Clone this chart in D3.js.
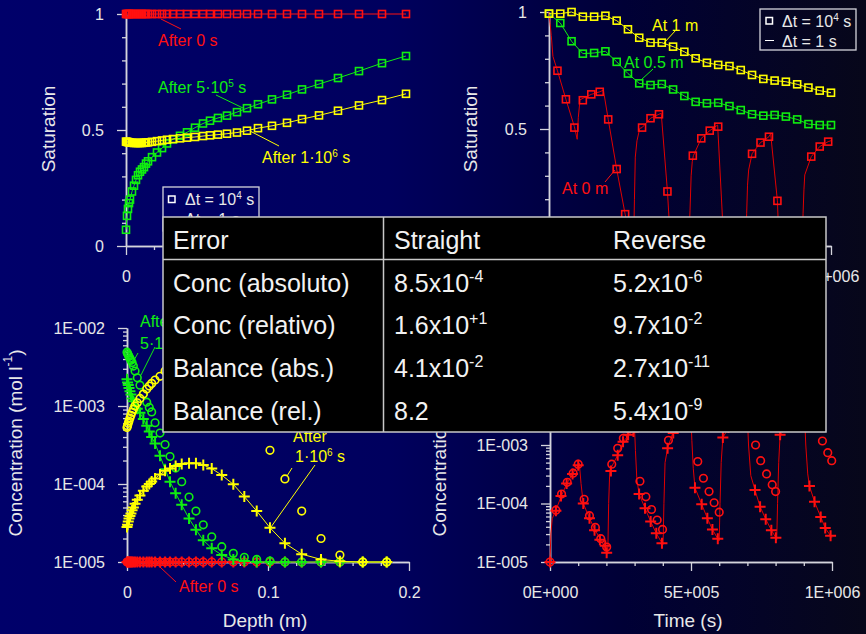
<!DOCTYPE html>
<html>
<head>
<script src="https://d3js.org/d3.v7.min.js"></script>
<style>
body { margin: 0; background: #000; }
svg text { font-family: "Liberation Sans", Arial, sans-serif; }
</style>
</head>
<body>
<script>
// ---------- data ----------
// top left: saturation vs depth (m)
const tlDepth = [0,0.0036,0.0071,0.0107,0.0143,0.0214,0.0286,0.0357,0.0429,0.05,0.0571,0.0643,0.0714,0.0786,0.0929,0.1107,0.1286,0.1464,0.1679,0.1929,0.2179,0.2464,0.275,0.3,0.3286,0.3607,0.3964,0.4321,0.4714,0.5214,0.575,0.6286,0.6893,0.7571,0.8321,0.9143,1.0];
const tlSat0 = [1,1,1,1,1,1,1,1,1,1,1,1,1,1,1,1,1,1,1,1,1,1,1,1,1,1,1,1,1,1,1,1,1,1,1,1,1];
const tlSat5e5 = [0.07,0.13,0.16,0.185,0.2,0.235,0.26,0.285,0.305,0.32,0.33,0.34,0.355,0.365,0.383,0.403,0.422,0.442,0.46,0.475,0.49,0.51,0.528,0.54,0.552,0.562,0.577,0.594,0.611,0.632,0.652,0.675,0.698,0.724,0.754,0.788,0.819];
const tlSat1e6 = [0.45,0.449,0.448,0.447,0.446,0.445,0.444,0.444,0.444,0.444,0.444,0.445,0.446,0.447,0.449,0.452,0.455,0.458,0.461,0.464,0.467,0.47,0.474,0.477,0.48,0.484,0.489,0.497,0.508,0.518,0.531,0.547,0.563,0.583,0.606,0.629,0.656];

// top right: saturation vs time (ks)
const trTime = [0,40,80,120,160,200,240,280,320,360,400,440,480,520,560,600,640,680,720,760,800,840,880,920,960,1000];
const trSat1m = [0.993,0.993,1.0,0.98,0.98,0.984,0.963,0.926,0.89,0.869,0.869,0.852,0.83,0.802,0.783,0.774,0.769,0.752,0.731,0.714,0.707,0.702,0.691,0.677,0.664,0.655];
const trSat05m = [0.993,0.953,0.875,0.822,0.825,0.832,0.787,0.737,0.695,0.688,0.692,0.669,0.641,0.616,0.61,0.612,0.598,0.581,0.563,0.557,0.56,0.553,0.541,0.521,0.517,0.517];
const trRedTime = [0,30,60,90,120,150,180,210,240,270,300,330,360,390,420,450,480,510,540,570,600,630,660,690,720,750,780,810,840,870,900,930,960,990];
const trSat0m = [0.993,0.749,0.627,0.506,0.623,0.648,0.659,0.541,0.329,0.136,0.04,0.506,0.546,0.563,0.233,0.03,0.04,0.386,0.46,0.493,0.51,0.03,0.03,0.04,0.394,0.442,0.467,0.193,0.03,0.03,0.04,0.382,0.425,0.446];
const trLine0mT = [0,4,8,14,30,60,90,100,104,110,150,180,193,210,240,270,290,300,303,306,312,322,330,360,390,398,420,430,495,500,504,508,512,540,570,598,616,625,698,701,704,708,720,750,780,786,810,815,898,901,904,907,930,960,990,1000];
const trLine0mS = [1,0.95,0.9,0.81,0.749,0.627,0.51,0.456,0.55,0.625,0.648,0.659,0.666,0.541,0.329,0.136,0.02,0,0.2,0.38,0.45,0.503,0.506,0.546,0.563,0.567,0.233,0.03,0,0.15,0.3,0.36,0.386,0.46,0.493,0.517,0.1,0,0,0.14,0.26,0.325,0.394,0.442,0.467,0.48,0.193,0.03,0,0.14,0.24,0.304,0.382,0.425,0.446,0.45];

// bottom left: concentration vs depth
const blDepth = [0,0.0004,0.0009,0.0014,0.0021,0.0028,0.0036,0.0045,0.0057,0.0073,0.0092,0.0116,0.014,0.0158,0.0175,0.0199,0.0234,0.027,0.0305,0.0345,0.0388,0.044,0.0489,0.0541,0.0601,0.0672,0.0754,0.0832,0.092,0.1014,0.112,0.1239,0.1376,0.151,0.1672,0.1842];
const blConc0 = [1e-5,1e-5,1e-5,1e-5,1e-5,1e-5,1e-5,1e-5,1e-5,1e-5,1e-5,1e-5,1e-5,1e-5,1e-5,1e-5,1e-5,1e-5,1e-5,1e-5,1e-5,1e-5,1e-5,1e-5,1e-5,1e-5,1e-5,1e-5,1e-5,1e-5,1e-5,1e-5,1e-5,1e-5,1e-5,1e-5];
const blGreenPlus = [2.2e-3,2.0e-3,1.86e-3,1.7e-3,1.55e-3,1.4e-3,1.25e-3,1.15e-3,1.02e-3,9.2e-4,8.2e-4,6.8e-4,5.6e-4,4.7e-4,4.0e-4,3.3e-4,2.3e-4,1.55e-4,1.07e-4,7.6e-5,5.4e-5,3.6e-5,2.6e-5,1.9e-5,1.5e-5,1.23e-5,1.08e-5,1.03e-5,1e-5,1e-5,1e-5,1e-5,1e-5,1e-5,1e-5,1e-5];
const blGreenCirc = [4.9e-3,4.7e-3,4.5e-3,4.3e-3,4.1e-3,3.85e-3,3.6e-3,3.25e-3,2.8e-3,2.3e-3,1.85e-3,1.42e-3,1.12e-3,9.6e-4,8.4e-4,6.1e-4,4.5e-4,3.2e-4,2.25e-4,1.6e-4,1.07e-4,6.8e-5,4.5e-5,3.0e-5,2.1e-5,1.57e-5,1.29e-5,1.15e-5,1.08e-5,1.03e-5,1e-5,1e-5,1e-5,1e-5,1e-5,1e-5];
const blYellowPlus = [2.8e-5,3.0e-5,3.3e-5,3.6e-5,3.9e-5,4.2e-5,4.6e-5,5.0e-5,5.6e-5,6.3e-5,7.1e-5,8.2e-5,9.3e-5,1.0e-4,1.08e-4,1.18e-4,1.32e-4,1.48e-4,1.58e-4,1.7e-4,1.8e-4,1.84e-4,1.84e-4,1.75e-4,1.58e-4,1.3e-4,9.9e-5,6.9e-5,4.5e-5,2.75e-5,1.74e-5,1.26e-5,1.08e-5,1.02e-5,1e-5,1e-5];
const blYellowCirc = [5.3e-4,5.6e-4,6.0e-4,6.4e-4,7.0e-4,7.6e-4,8.3e-4,9.1e-4,1.0e-3,1.1e-3,1.25e-3,1.42e-3,1.65e-3,1.8e-3,1.95e-3,2.15e-3,2.4e-3,2.8e-3,3.2e-3,3.6e-3,3.9e-3,4.1e-3,4.2e-3,4.1e-3,3.8e-3,3.2e-3,2.3e-3,1.5e-3,7.5e-4,2.7e-4,1.16e-4,4.5e-5,2.0e-5,1.23e-5,1e-5,1e-5];

// bottom right: concentration at 0 m vs time (ks)
const brPlusT = [0,21,39,59,80,100,118,140,158,177,196,201,216,240,259,277,296,316,337,357,377,397,417,437,457,477,497,514,538,558,576,595,613,633,653,673,693,727,745,765,785,801,816,836,856,876,896,920,938,960,976,995];
const brPlusC = [1e-5,7.5e-5,1.34e-4,2.2e-4,3.2e-4,4.5e-4,1.0e-4,5.6e-5,3.5e-5,2.4e-5,1.9e-5,1.44e-5,3.6e-4,6.7e-4,1.14e-3,1.5e-3,1.7e-3,1.45e-4,8.3e-5,4.9e-5,3.1e-5,2.1e-5,8.8e-4,1.6e-3,2.2e-3,2.6e-3,2.9e-3,1.86e-4,9.7e-5,5.6e-5,3.6e-5,2.5e-5,1.35e-3,2.0e-3,2.4e-3,2.7e-3,2.9e-3,1.7e-4,8.8e-5,5.4e-5,3.5e-5,2.6e-5,1.5e-3,2.1e-3,2.5e-3,2.8e-3,3.0e-3,2.0e-4,1.07e-4,5.9e-5,3.8e-5,2.8e-5];
const brCircT = [0,21,41,61,82,100,121,140,161,180,201,219,240,260,280,300,319,340,360,380,399,420,440,460,480,500,524,544,564,582,600,620,640,660,680,700,729,747,768,788,800,820,840,860,880,900,920,945,966,985,999];
const brCircC = [1e-5,7.7e-5,1.45e-4,2.3e-4,3.3e-4,4.7e-4,1.18e-4,6.2e-5,3.9e-5,2.5e-5,1.8e-5,4.7e-4,8.8e-4,1.3e-3,1.9e-3,2.4e-3,2.4e-4,1.3e-4,7.9e-5,5.2e-5,3.6e-5,1.2e-3,2.0e-3,2.6e-3,3.0e-3,3.3e-3,5.2e-4,2.7e-4,1.6e-4,1.03e-4,7.1e-5,2.0e-3,2.7e-3,3.1e-3,3.4e-3,3.6e-3,1.0e-3,5.4e-4,3.2e-4,2.1e-4,1.6e-4,2.5e-3,3.1e-3,3.5e-3,3.8e-3,4.0e-3,3.5e-3,2.2e-3,1.17e-3,7.4e-4,5.4e-4];
const brLineT = [0,3,8,20,40,60,80,100,104,110,118,140,160,180,200,205,208,212,240,260,280,300,303,308,316,337,357,377,397,401,404,408,417,437,460,480,500,503,508,514,538,558,576,597,600,603,607,613,640,670,700,704,712,727,745,765,785,801,804,807,811,816,850,880,903,907,914,920,938,960,976,995,1000];
const brLineC = [1e-5,3e-5,5.5e-5,7.5e-5,1.34e-4,2.2e-4,3.2e-4,4.5e-4,4.9e-4,2.2e-4,1.0e-4,5.6e-5,3.5e-5,2.4e-5,1.6e-5,1.4e-5,1.0e-4,3.7e-4,6.7e-4,1.14e-3,1.5e-3,1.9e-3,8e-4,2.6e-4,1.45e-4,8.3e-5,4.9e-5,3.1e-5,2.1e-5,2.0e-5,1.0e-4,5.0e-4,8.8e-4,1.7e-3,2.3e-3,2.7e-3,3.0e-3,1.2e-3,4.0e-4,1.86e-4,9.7e-5,5.6e-5,3.6e-5,2.4e-5,2.3e-5,1.0e-4,5e-4,1.35e-3,2.2e-3,2.7e-3,3.0e-3,1.0e-3,3.0e-4,1.7e-4,8.8e-5,5.4e-5,3.5e-5,2.6e-5,2.4e-5,1.0e-4,5e-4,1.5e-3,2.3e-3,2.8e-3,3.0e-3,1.0e-3,3.2e-4,2.0e-4,1.07e-4,5.9e-5,3.8e-5,2.8e-5,2.6e-5];

// error table
const errHeader = ["Error", "Straight", "Reverse"];
const errNames = ["Conc (absoluto)", "Conc (relativo)", "Balance (abs.)", "Balance (rel.)"];
const errStraight = [["8.5x10", "-4"], ["1.6x10", "+1"], ["4.1x10", "-2"], ["8.2", null]];
const errReverse = [["5.2x10", "-6"], ["9.7x10", "-2"], ["2.7x10", "-11"], ["5.4x10", "-9"]];

// ---------- drawing ----------
const W = 866, H = 634;
const RED = "#ff1010", GREEN = "#10ee10", YELLOW = "#ffff00";
const AXIS = "#d4d4dc", TXT = "#e8e8e8";

const svg = d3.select("body").append("svg").attr("width", W).attr("height", H);
const defs = svg.append("defs");
const grad = defs.append("linearGradient").attr("id", "bg").attr("x1", 0).attr("x2", 1).attr("y1", 0).attr("y2", 0);
[[0, "#00006a"], [0.45, "#00005e"], [0.72, "#000036"], [1, "#07071a"]].forEach(s =>
  grad.append("stop").attr("offset", s[0]).attr("stop-color", s[1]));
svg.append("rect").attr("width", W).attr("height", H).attr("fill", "url(#bg)");

function richText(g, x, y, parts, size, color, anchor) {
  const t = g.append("text").attr("x", x).attr("y", y).attr("fill", color)
    .attr("font-size", size).attr("text-anchor", anchor || "start");
  let raised = 0;
  parts.forEach(p => {
    if (p == null) return;
    const sup = typeof p !== "string";
    const shift = sup ? -Math.round(size * 0.4) : 0;
    const s = t.append("tspan").text(sup ? p.sup : p).attr("dy", shift - raised);
    if (sup) s.attr("font-size", Math.round(size * 0.65));
    raised = shift;
  });
  return t;
}

function styleAxis(sel) {
  sel.select(".domain").attr("stroke", AXIS).attr("stroke-width", 1.5);
  sel.selectAll(".tick line").attr("stroke", AXIS).attr("stroke-width", 1.3);
  sel.selectAll(".tick text").attr("fill", TXT).attr("font-size", 16)
    .attr("font-family", "Liberation Sans, Arial, sans-serif");
}

// majors get long ticks; only the values in *Lab get a label (others sit under the table)
function axes(x, y, xMaj, xMin, xLab, xFmt, yMaj, yMin, yLab, yFmt) {
  const x0 = x.range()[0], y0 = y.range()[0];
  const g = svg.append("g");
  const fx = d => xLab.includes(d) ? xFmt(d) : "";
  const fy = d => yLab.includes(d) ? yFmt(d) : "";
  g.append("g").attr("transform", `translate(0,${y0})`)
    .call(d3.axisBottom(x).tickValues(xMin).tickSize(4).tickSizeOuter(0).tickFormat("")).call(styleAxis);
  g.append("g").attr("transform", `translate(0,${y0})`)
    .call(d3.axisBottom(x).tickValues(xMaj).tickSize(9).tickSizeOuter(0).tickPadding(16).tickFormat(fx)).call(styleAxis);
  g.append("g").attr("transform", `translate(${x0},0)`)
    .call(d3.axisLeft(y).tickValues(yMin).tickSize(4).tickSizeOuter(0).tickFormat("")).call(styleAxis);
  g.append("g").attr("transform", `translate(${x0},0)`)
    .call(d3.axisLeft(y).tickValues(yMaj).tickSize(9).tickSizeOuter(0).tickPadding(13).tickFormat(fy)).call(styleAxis);
}

const pad3 = n => String(n).padStart(3, "0");
const sciFmt = d => {
  const v = d * 1000;
  if (v === 0) return "0E+000";
  const e = Math.floor(Math.log10(v) + 1e-9);
  return `${Math.round(v / Math.pow(10, e))}E+${pad3(e)}`;
};
const logFmt = d => {
  const e = Math.round(Math.log10(d));
  return `1E${e < 0 ? "-" : "+"}${pad3(Math.abs(e))}`;
};
const logMinors = (lo, hi) => {
  const out = [];
  for (let e = lo; e < hi; e++) for (let m = 2; m <= 9; m++) out.push(m * Math.pow(10, e));
  return out;
};

function squares(xs, ys, sx, sy, color) {
  svg.append("g").selectAll("rect").data(d3.zip(xs, ys)).join("rect")
    .attr("x", d => sx(d[0]) - 3.5).attr("y", d => sy(d[1]) - 3.5)
    .attr("width", 7).attr("height", 7)
    .attr("fill", "none").attr("stroke", color).attr("stroke-width", 1.6);
}
function circles(xs, ys, sx, sy, color) {
  svg.append("g").selectAll("circle").data(d3.zip(xs, ys)).join("circle")
    .attr("cx", d => sx(d[0])).attr("cy", d => sy(d[1])).attr("r", 3.8)
    .attr("fill", "none").attr("stroke", color).attr("stroke-width", 1.6);
}
function pluses(xs, ys, sx, sy, color) {
  svg.append("g").selectAll("path").data(d3.zip(xs, ys)).join("path")
    .attr("d", d => {
      const x = sx(d[0]), y = sy(d[1]);
      return `M${x - 5.5},${y}H${x + 5.5}M${x},${y - 5.5}V${y + 5.5}`;
    })
    .attr("stroke", color).attr("stroke-width", 2).attr("fill", "none");
}
function curve(xs, ys, sx, sy, color, w) {
  svg.append("path").datum(d3.zip(xs, ys))
    .attr("d", d3.line().x(d => sx(d[0])).y(d => sy(d[1])))
    .attr("fill", "none").attr("stroke", color).attr("stroke-width", w || 1);
}
function leader(x1, y1, x2, y2, color) {
  svg.append("line").attr("x1", x1).attr("y1", y1).attr("x2", x2).attr("y2", y2)
    .attr("stroke", color).attr("stroke-width", 1);
}
function yTitle(x, y, parts) {
  const g = svg.append("g").attr("transform", `translate(${x},${y}) rotate(-90)`);
  richText(g, 0, 0, parts, 19, TXT, "middle").attr("dominant-baseline", "middle");
}

const tenths = [0.1, 0.2, 0.3, 0.4, 0.6, 0.7, 0.8, 0.9];

// ----- top left -----
const xTL = d3.scaleLinear([0, 1], [126, 406]);
const yTL = d3.scaleLinear([0, 1], [246, 14]);
axes(xTL, yTL, [0, 0.5, 1], tenths, [0], d3.format("~g"),
  [0, 0.5, 1], tenths, [0, 0.5, 1], d3.format("~g"));
yTitle(50, 129, ["Saturation"]);
curve(tlDepth, tlSat0, xTL, yTL, RED);
curve(tlDepth, tlSat5e5, xTL, yTL, GREEN);
curve(tlDepth, tlSat1e6, xTL, yTL, YELLOW);
squares(tlDepth, tlSat0, xTL, yTL, RED);
squares(tlDepth, tlSat5e5, xTL, yTL, GREEN);
squares(tlDepth, tlSat1e6, xTL, yTL, YELLOW);
richText(svg, 158, 46, ["After 0 s"], 16, RED);
leader(161, 19, 181, 29, RED);
richText(svg, 158, 93, ["After 5·10", {sup: "5"}, " s"], 16, GREEN);
leader(216, 95, 243, 108, GREEN);
richText(svg, 262, 163, ["After 1·10", {sup: "6"}, " s"], 16, YELLOW);
leader(250, 131, 279, 146, YELLOW);
// legend (partly under the table)
svg.append("rect").attr("x", 163).attr("y", 187).attr("width", 96).attr("height", 44)
  .attr("fill", "none").attr("stroke", AXIS).attr("stroke-width", 1.3);
svg.append("rect").attr("x", 168.5).attr("y", 196).attr("width", 6.5).attr("height", 6.5)
  .attr("fill", "none").attr("stroke", "#fff").attr("stroke-width", 1.5);
richText(svg, 185, 205, ["\u0394t = 10", {sup: "4"}, " s"], 16, TXT);
leader(167, 219, 177, 219, "#fff");
richText(svg, 185, 225, ["\u0394t = 1 s"], 16, TXT);

// ----- top right -----
const xTR = d3.scaleLinear([0, 1000], [549, 831]);
const yTR = d3.scaleLinear([0, 1], [246, 12]);
axes(xTR, yTR, [0, 500, 1000], [100, 200, 300, 400, 600, 700, 800, 900], [1000], sciFmt,
  [0, 0.5, 1], tenths, [0.5, 1], d3.format("~g"));
yTitle(472, 129, ["Saturation"]);
curve(trLine0mT, trLine0mS, xTR, yTR, "#e00000");
curve(trTime, trSat05m, xTR, yTR, GREEN);
curve(trTime, trSat1m, xTR, yTR, YELLOW);
squares(trRedTime, trSat0m, xTR, yTR, RED);
squares(trTime, trSat05m, xTR, yTR, GREEN);
squares(trTime, trSat1m, xTR, yTR, YELLOW);
richText(svg, 652, 31, ["At 1 m"], 16, YELLOW);
leader(676, 30, 664, 43, YELLOW);
richText(svg, 624, 68, ["At 0.5 m"], 16, GREEN);
leader(653, 69, 641, 80, GREEN);
richText(svg, 562, 194, ["At 0 m"], 16, RED);
leader(605, 182, 615, 170, RED);
svg.append("rect").attr("x", 760).attr("y", 9).attr("width", 96).attr("height", 41)
  .attr("fill", "none").attr("stroke", AXIS).attr("stroke-width", 1.3);
svg.append("rect").attr("x", 766).attr("y", 17.5).attr("width", 6.5).attr("height", 6.5)
  .attr("fill", "none").attr("stroke", "#fff").attr("stroke-width", 1.5);
richText(svg, 782, 27, ["\u0394t = 10", {sup: "4"}, " s"], 16, TXT);
leader(765, 40.5, 774, 40.5, "#fff");
richText(svg, 782, 47, ["\u0394t = 1 s"], 16, TXT);

// ----- bottom left -----
const xBL = d3.scaleLinear([0, 0.2], [127, 409]);
const yBL = d3.scaleLog([1e-5, 1e-2], [562, 328]);
axes(xBL, yBL, [0, 0.1, 0.2], [0.02, 0.04, 0.06, 0.08, 0.12, 0.14, 0.16, 0.18], [0, 0.1, 0.2], d3.format("~g"),
  [1e-5, 1e-4, 1e-3, 1e-2], logMinors(-5, -2), [1e-5, 1e-4, 1e-3, 1e-2], logFmt);
yTitle(17, 443, ["Concentration (mol l", {sup: "-1"}, ")"]);
svg.append("text").attr("x", 265).attr("y", 627).attr("text-anchor", "middle")
  .attr("fill", TXT).attr("font-size", 19).text("Depth (m)");
curve(blDepth, blConc0, xBL, yBL, RED);
circles(blDepth, blConc0, xBL, yBL, RED);
pluses(blDepth, blConc0, xBL, yBL, RED);
curve(blDepth, blGreenPlus, xBL, yBL, GREEN);
circles(blDepth, blGreenCirc, xBL, yBL, GREEN);
pluses(blDepth, blGreenPlus, xBL, yBL, GREEN);
curve(blDepth, blYellowPlus, xBL, yBL, YELLOW);
circles(blDepth, blYellowCirc, xBL, yBL, YELLOW);
pluses(blDepth, blYellowPlus, xBL, yBL, YELLOW);
richText(svg, 179, 592, ["After 0 s"], 16, RED);
leader(160, 567, 176, 582, RED);
richText(svg, 140, 327, ["After"], 16, GREEN);
richText(svg, 140, 349, ["5·10", {sup: "5"}, " s"], 16, GREEN);
leader(138, 353, 133, 362, GREEN);
leader(155, 347, 141, 375, GREEN);
richText(svg, 293, 442, ["After"], 16, YELLOW);
richText(svg, 295, 462, ["1·10", {sup: "6"}, " s"], 16, YELLOW);
leader(292, 468, 287, 476, YELLOW);
leader(315, 465, 271, 527, YELLOW);

// ----- bottom right -----
const xBR = d3.scaleLinear([0, 1000], [550, 832]);
const yBR = d3.scaleLog([1e-5, 1e-1], [562, 328]);
axes(xBR, yBR, [0, 500, 1000], [100, 200, 300, 400, 600, 700, 800, 900], [0, 500, 1000], sciFmt,
  [1e-5, 1e-4, 1e-3, 1e-2, 1e-1], logMinors(-5, -1), [1e-5, 1e-4, 1e-3], logFmt);
yTitle(441, 443, ["Concentration (mol l", {sup: "-1"}, ")"]);
svg.append("text").attr("x", 688).attr("y", 627).attr("text-anchor", "middle")
  .attr("fill", TXT).attr("font-size", 19).text("Time (s)");
curve(brLineT, brLineC, xBR, yBR, "#e00000");
circles(brCircT, brCircC, xBR, yBR, RED);
pluses(brPlusT, brPlusC, xBR, yBR, RED);

// ----- error table -----
const tbl = svg.append("g");
tbl.append("rect").attr("x", 163).attr("y", 217).attr("width", 663).attr("height", 215)
  .attr("fill", "#000").attr("stroke", "#c8c8c8").attr("stroke-width", 1.5);
tbl.append("line").attr("x1", 163).attr("x2", 826).attr("y1", 259.5).attr("y2", 259.5)
  .attr("stroke", "#c8c8c8").attr("stroke-width", 1.5);
tbl.append("line").attr("x1", 383.5).attr("x2", 383.5).attr("y1", 217).attr("y2", 432)
  .attr("stroke", "#c8c8c8").attr("stroke-width", 1.5);
const colX = [173, 394, 613];
const rowY = [248.5, 291.5, 334, 377, 419.5];
errHeader.forEach((h, i) => richText(tbl, colX[i], rowY[0], [h], 25, "#f2f2f2"));
errNames.forEach((n, r) => {
  richText(tbl, colX[0], rowY[r + 1], [n], 25, "#f2f2f2");
  const s = errStraight[r], v = errReverse[r];
  richText(tbl, colX[1], rowY[r + 1], [s[0], s[1] ? {sup: s[1]} : null], 25, "#f2f2f2");
  richText(tbl, colX[2], rowY[r + 1], [v[0], v[1] ? {sup: v[1]} : null], 25, "#f2f2f2");
});
</script>
</body>
</html>
